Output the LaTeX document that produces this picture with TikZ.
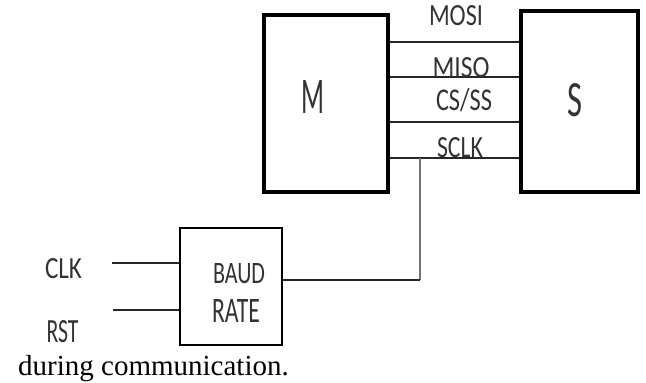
\documentclass[tikz,border=0pt]{standalone}
\usepackage{fontspec}
\usepackage{graphicx}
\setmainfont{Liberation Serif}
\newfontfamily\lab{Carlito}
\newcommand{\sklbl}[3]{\resizebox{#1pt}{#2pt}{\lab\fontsize{32}{32}\selectfont #3}}
\begin{document}
\begin{tikzpicture}[x=1pt,y=-1pt,
  bigbox/.style={draw=black, line width=3.5pt, rectangle, inner sep=0pt},
  smallbox/.style={draw=black, line width=2pt, rectangle, inner sep=0pt},
  wire/.style={draw=black!85, line width=1.5pt},
  tapwire/.style={draw=black!55, line width=1.2pt},
  lbl/.style={anchor=base, inner sep=0pt, text=black!80}]
\useasboundingbox (0,0) rectangle (646,383);

% blocks
\node[bigbox, minimum width=124pt, minimum height=177pt] (M) at (326,103.5) {};
\node[bigbox, minimum width=117pt, minimum height=181pt] (S) at (579.5,101.5) {};
\node[smallbox, minimum width=102pt, minimum height=117pt] (B) at (231,286.5) {};

% block labels
\node[lbl] (Mt) at (313,113) {\sklbl{23}{33}{M}};
\node[lbl] (St) at (575,116) {\sklbl{15}{33}{S}};
\node[lbl] (Bt1) at (239,283) {\sklbl{52}{20}{BAUD}};
\node[lbl] (Bt2) at (236,322) {\sklbl{48}{23}{RATE}};

% bus coordinates
\coordinate (y1) at (0,42);
\coordinate (y2) at (0,77);
\coordinate (y3) at (0,122);
\coordinate (y4) at (0,158);
\coordinate (tap) at (420,158);
\coordinate (bend) at (420,280);
\coordinate (clkin) at (112,263);
\coordinate (rstin) at (113,310);

% bus lines
\draw[wire] (M.east |- y1) -- (S.west |- y1);
\draw[wire] (M.east |- y2) -- (S.west |- y2);
\draw[wire] (M.east |- y3) -- (S.west |- y3);
\draw[wire] (M.east |- y4) -- (S.west |- y4);

% bus labels
\node[lbl] (mosi) at (456,25) {\sklbl{54}{20}{MOSI}};
\node[lbl] (miso) at (461,77) {\sklbl{57}{20}{MISO}};
\node[lbl] (csss) at (464,110) {\sklbl{56}{22}{CS/SS}};
\node[lbl] (sclk) at (460,157) {\sklbl{46}{20}{SCLK}};

% clock from baud rate generator
\draw[tapwire] (tap) -- (bend);
\draw[wire] (bend) -- (B.east |- bend);

% inputs
\draw[wire] (clkin) -- (B.west |- clkin);
\draw[wire] (rstin) -- (B.west |- rstin);
\node[lbl] (clk) at (63.5,278) {\sklbl{37}{20}{CLK}};
\node[lbl] (rst) at (62.5,342) {\sklbl{32}{22}{RST}};

% caption fragment
\node[anchor=base west, inner sep=0pt, font=\fontsize{29}{29}\selectfont] (cap) at (18,375) {during communication.};
\end{tikzpicture}
\end{document}
